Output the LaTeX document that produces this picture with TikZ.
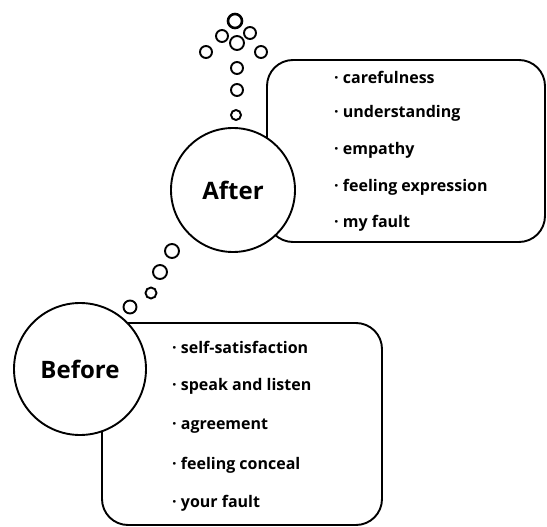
\documentclass[tikz,border=0pt]{standalone}
\usepackage{fontspec}
\setmainfont{Open Sans}
\usetikzlibrary{positioning}
\tikzset{
    stage/.style={circle, draw, line width=1.9pt, fill=white, font=\bfseries\fontsize{24}{26}\selectfont},
    listbox/.style={draw, line width=1.9pt, rounded corners=26pt},
    item/.style={anchor=west, inner sep=0pt, font=\bfseries\fontsize{16}{18}\selectfont},
    dot/.style={line width=1.9pt}
}

\begin{document}
\begin{tikzpicture}[x=1pt, y=-1pt]
                        \useasboundingbox (0,0) rectangle (547,527);

                        % boxes
                        \node[listbox, minimum width=278pt, minimum height=182pt] (abox) at (406, 151) {};
                        \node[listbox, minimum width=280pt, minimum height=202pt] (bbox) at (242, 424) {};

                        % circles
                        \node[stage, minimum size=124pt] (after) at (233, 190) {After};
                        \node[stage, minimum size=132pt] (before) at (80, 369) {Before};

                        % after list
                        \node[item] (a1) at (334, 77) {· carefulness};
                        \node[item] (a2) at (334, 113) {· understanding};
                        \node[item] (a3) at (334, 150) {· empathy};
                        \node[item] (a4) at (334, 187) {· feeling expression};
                        \node[item] (a5) at (334, 223) {· my fault};

                        % before list
                        \node[item] (b1) at (172, 347) {· self-satisfaction};
                        \node[item] (b2) at (172, 386) {· speak and listen};
                        \node[item] (b3) at (172, 426) {· agreement};
                        \node[item] (b4) at (172, 465) {· feeling conceal};
                        \node[item] (b5) at (172, 503) {· your fault};

                        % dotted path between circles
                        \foreach \x/\y/\r in {172/251/7, 160/272/7, 151/293/5.5, 130/307/6.5}
                            \draw[dot] (\x,\y) circle[radius=\r];

                        % dotted arrow on top
                        \foreach \x/\y/\r in {236/115/5, 237/90/6, 237/68/6, 237/43/7, 222/36/6, 250/33/6, 206/52/6, 261/52/6}
                            \draw[dot] (\x,\y) circle[radius=\r];
                        \draw[line width=2.6pt] (235,21) circle[radius=7];
                    \end{tikzpicture}
\end{document}
